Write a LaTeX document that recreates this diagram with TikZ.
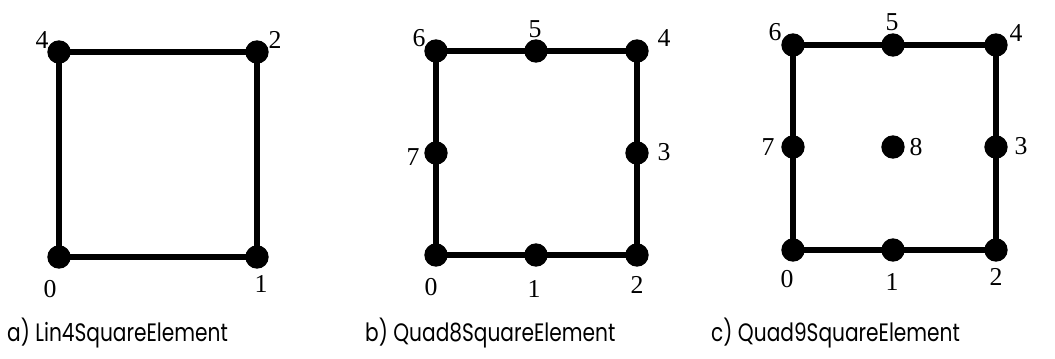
\documentclass[tikz,border=0pt]{standalone}
\usepackage{fontspec}
\setmainfont{Liberation Serif}
\newfontfamily\capfont[FakeStretch=0.8]{Poppins}
\usetikzlibrary{positioning}
\tikzset{
  dot/.style={
    circle,
    fill=black,
    inner sep=0pt,
    minimum size=7mm
  },
  num/.style={
    inner sep=0pt,
    font=\fontsize{22}{24}\selectfont
  },
  elemcap/.style={
    anchor=base west,
    inner sep=0pt,
    font=\capfont\fontsize{21.5}{23}\selectfont
  },
  edge/.style={
    draw=black,
    line width=1.7mm,
    line join=round
  }
}

\begin{document}
\begin{tikzpicture}[x=0.3mm,y=-0.3mm]
  \useasboundingbox (0,0) rectangle (1055,358);
  % a) four corner nodes
  \node[dot] (a0) at (59,257) {};
  \node[dot] (a1) at (257,257) {};
  \node[dot] (a2) at (257,52) {};
  \node[dot] (a4) at (59,52) {};
  \draw[edge] (a0.center) -- (a1.center) -- (a2.center) -- (a4.center) -- cycle;
  \node[num] (a0n) at (50,289) {0};
  \node[num] (a1n) at (261,284) {1};
  \node[num] (a2n) at (275,40) {2};
  \node[num] (a4n) at (42,40) {4};
  \node[elemcap] (acap) at (7,341) {a) Lin4SquareElement};
  % b) eight nodes
  \node[dot] (b0) at (436,255) {};
  \node[dot] (b1) at (536,255) {};
  \node[dot] (b2) at (637,255) {};
  \node[dot] (b3) at (637,153) {};
  \node[dot] (b4) at (637,51) {};
  \node[dot] (b5) at (536,51) {};
  \node[dot] (b6) at (436,51) {};
  \node[dot] (b7) at (436,153) {};
  \draw[edge] (b0.center) -- (b1.center) -- (b2.center) -- (b3.center) -- (b4.center)
    -- (b5.center) -- (b6.center) -- (b7.center) -- cycle;
  \node[num] (b0n) at (431,287) {0};
  \node[num] (b1n) at (534,289) {1};
  \node[num] (b2n) at (637,285) {2};
  \node[num] (b3n) at (664,152) {3};
  \node[num] (b4n) at (664,38) {4};
  \node[num] (b5n) at (535,29) {5};
  \node[num] (b6n) at (419,38) {6};
  \node[num] (b7n) at (413,157) {7};
  \node[elemcap] (bcap) at (365,341) {b) Quad8SquareElement};
  % c) nine nodes
  \node[dot] (c0) at (793,250) {};
  \node[dot] (c1) at (893,250) {};
  \node[dot] (c2) at (996,250) {};
  \node[dot] (c3) at (996,147) {};
  \node[dot] (c4) at (996,45) {};
  \node[dot] (c5) at (893,45) {};
  \node[dot] (c6) at (793,45) {};
  \node[dot] (c7) at (793,147) {};
  \node[dot] (c8) at (893,147) {};
  \draw[edge] (c0.center) -- (c1.center) -- (c2.center) -- (c3.center) -- (c4.center)
    -- (c5.center) -- (c6.center) -- (c7.center) -- cycle;
  \node[num] (c0n) at (787,279) {0};
  \node[num] (c1n) at (892,282) {1};
  \node[num] (c2n) at (996,277) {2};
  \node[num] (c3n) at (1021,146) {3};
  \node[num] (c4n) at (1016,33) {4};
  \node[num] (c5n) at (892,22) {5};
  \node[num] (c6n) at (775,32) {6};
  \node[num] (c7n) at (768,147) {7};
  \node[num] (c8n) at (916,147) {8};
  \node[elemcap] (ccap) at (711,341) {c) Quad9SquareElement};
\end{tikzpicture}
\end{document}
